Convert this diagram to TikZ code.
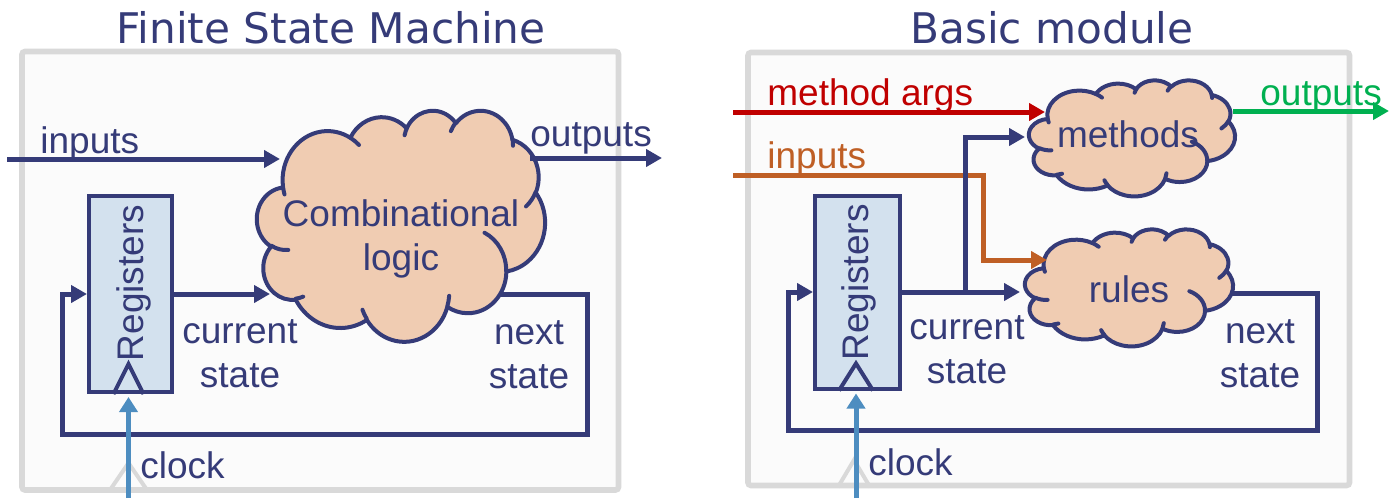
\documentclass[tikz,border=0pt]{standalone}
\usepackage{fontspec}
\setmainfont{Liberation Sans}
\newfontfamily\titlefont{DejaVu Sans}
\usetikzlibrary{arrows.meta}

\definecolor{ink}{HTML}{353B78}
\definecolor{cloudfill}{HTML}{F0CCB2}
\definecolor{regfill}{HTML}{D3E1EE}
\definecolor{clockblue}{HTML}{4D8DC0}
\definecolor{argred}{HTML}{C00000}
\definecolor{inorange}{HTML}{BF5F25}
\definecolor{outgreen}{HTML}{00B050}
\definecolor{panelgray}{HTML}{D9D9D9}
\definecolor{panelfill}{HTML}{FBFBFB}

% A point of the cloud outline, given in a 43.2 x 43.2 design square
\newcommand\cldpt[2]{%
  \pgfmathsetmacro\cldPx{\cldX+\cldW*#1/43.2}%
  \pgfmathsetmacro\cldPy{\cldY+\cldH*#2/43.2}%
  \pgfpointxy{\cldPx}{\cldPy}}
% Elliptic arc continuing the path: radii wR, hR; start and sweep as visual angles
\newcommand\cldarc[4]{%
  \pgfmathsetmacro\cldA{atan2(#1*sin(#3),#2*cos(#3))}%
  \pgfmathsetmacro\cldB{atan2(#1*sin(#3+#4),#2*cos(#3+#4))}%
  \pgfmathsetmacro\cldD{\cldB-\cldA}%
  \pgfmathsetmacro\cldD{\cldD+360*((#4>0)*(\cldD<0))-360*((#4<0)*(\cldD>0))}%
  \pgfmathsetmacro\cldE{\cldA+\cldD}%
  \pgfmathsetmacro\cldRx{\cldW*#1/43.2}%
  \pgfmathsetmacro\cldRy{\cldH*#2/43.2}%
  \pgfpatharcaxes{\cldA}{\cldE}{\pgfpointxy{\cldRx}{0}}{\pgfpointxy{0}{\cldRy}}}
% Cloud: left, top, width, height
\newcommand\pptcloud[4]{%
  \def\cldX{#1}\def\cldY{#2}\def\cldW{#3}\def\cldH{#4}%
  \begin{pgfscope}
    \pgfsetlinewidth{2pt}\pgfsetstrokecolor{ink}\pgfsetfillcolor{cloudfill}%
    \pgfsetroundjoin\pgfsetroundcap
    \pgfpathmoveto{\cldpt{3.900}{14.370}}%
    \cldarc{6.753}{9.190}{-190.48748}{123.78053}%
    \cldarc{5.333}{7.267}{-144.10238}{89.94523}%
    \cldarc{4.365}{5.945}{-145.80792}{99.72302}%
    \cldarc{4.857}{6.595}{-130.98607}{117.24173}%
    \cldarc{5.333}{7.273}{-78.70888}{109.02692}%
    \cldarc{6.775}{9.220}{-46.26725}{130.26900}%
    \cldarc{5.785}{7.867}{0.62502}{114.03333}%
    \cldarc{6.752}{9.215}{22.45160}{115.17255}%
    \cldarc{7.720}{10.543}{66.24263}{75.71102}%
    \cldarc{4.360}{5.918}{-274.94208}{146.73557}%
    \cldarc{4.345}{5.945}{-246.82850}{152.51885}%
    \pgfpathclose
    \pgfusepath{fill,stroke}%
    \pgfpathmoveto{\cldpt{4.693}{26.177}}\cldarc{4.345}{5.945}{86.74200}{26.42950}%
    \pgfpathmoveto{\cldpt{6.928}{34.899}}\cldarc{4.360}{5.918}{73.61047}{11.44747}%
    \pgfpathmoveto{\cldpt{16.478}{39.090}}\cldarc{6.752}{9.215}{137.62415}{14.08110}%
    \pgfpathmoveto{\cldpt{28.827}{34.751}}\cldarc{6.752}{9.215}{6.45327}{15.99835}%
    \pgfpathmoveto{\cldpt{34.129}{22.954}}\cldarc{5.785}{7.867}{-70.29235}{70.91737}%
    \pgfpathmoveto{\cldpt{41.798}{15.354}}\cldarc{5.333}{7.273}{30.31803}{27.75150}%
    \pgfpathmoveto{\cldpt{38.324}{5.426}}\cldarc{4.857}{6.595}{-13.74433}{14.85890}%
    \pgfpathmoveto{\cldpt{29.078}{3.952}}\cldarc{4.857}{6.595}{-149.18145}{18.19537}%
    \pgfpathmoveto{\cldpt{22.141}{4.720}}\cldarc{4.365}{5.945}{-163.49427}{17.68635}%
    \pgfpathmoveto{\cldpt{14.000}{5.192}}\cldarc{6.753}{9.190}{-66.70695}{12.31935}%
    \pgfpathmoveto{\cldpt{4.127}{15.789}}\cldarc{6.753}{9.190}{157.65435}{11.85817}%
    \pgfusepath{stroke}%
  \end{pgfscope}}

\begin{document}
\begin{tikzpicture}[x=0.5pt,y=-0.5pt,
  txt/.style={font=\fontsize{18.5}{22}\selectfont, text=ink, inner sep=0pt},
  ttl/.style={font=\titlefont\fontsize{21.1}{25}\selectfont, text=ink, inner sep=0pt},
  panel/.style={draw=panelgray, line width=2.8pt, fill=panelfill, rounded corners=1.5pt},
  regbox/.style={draw=ink, line width=2pt, fill=regfill, inner sep=0pt},
  wire/.style={draw=ink, line width=2.5pt},
  arr/.style={-{Triangle[length=8pt,width=8.5pt]}},
  clk/.style={draw=clockblue, line width=2.5pt, -{Triangle[length=7.5pt,width=9pt]}},
  ghost/.style={draw=panelgray, line width=2pt},
  edgetri/.style={draw=ink, line width=2pt, line join=miter}]
\useasboundingbox (0,0) rectangle (1390,498);
\fill[white] (0,0) rectangle (1390,498);

% ---------------- Finite State Machine ----------------
\node[panel, minimum width=298.25pt, minimum height=219.25pt] (panelL) at (320.25,270.75) {};
\node[ttl, anchor=base] (ttlL) at (331,43) {Finite State Machine};

\pptcloud{257}{110}{288}{231}
% two-line labels: the base anchor sits on the last line
\node[txt, align=center, anchor=base] (comb) at (401,270) {Combinational\\logic};

\node[regbox, minimum width=41.5pt, minimum height=98pt] (regL) at (130.5,294) {};
\node[txt, rotate=90, anchor=base] (regLtxt) at (143,283) {Registers};

\coordinate (inL) at (7,159);
\coordinate (combIn) at (280,159);
\coordinate (combOut) at (530,158);
\coordinate (outL) at (662,158);
\coordinate (combCS) at (270,294);
\coordinate (combNS) at (500,294);
\coordinate (loopRL) at (587,434);
\coordinate (loopLL) at (62,434);
\coordinate (clkL) at (128.5,498);

\draw[wire, arr] (inL) -- (combIn);
\draw[wire, arr] (combOut) -- (outL);
\draw[wire, arr] (regL.east) -- (combCS);
\draw[wire, arr] (combNS) -| (loopRL) -- (loopLL) |- (regL.west);

\draw[ghost] (110,490) -- (128.5,463) -- (147,490);
\draw[edgetri] (clkL |- regL.south) ++(-15,0) -- ++(15,-30) -- ++(15,30);
\draw[clk] (clkL) -- ([yshift=-1.5pt]clkL |- regL.south);

\node[txt, anchor=base west] (inLlbl) at (40,153) {inputs};
\node[txt, anchor=base west] (outLlbl) at (530,146) {outputs};
\node[txt, align=center, anchor=base] (csL) at (240,387) {current\\state};
\node[txt, align=center, anchor=base] (nsL) at (529,388) {next\\state};
\node[txt, anchor=base west] (clkLlbl) at (140,478) {clock};

% ---------------- Basic module ----------------
\node[panel, minimum width=300.75pt, minimum height=216.5pt] (panelR) at (1048.75,269) {};
\node[ttl, anchor=base] (ttlR) at (1052,43) {Basic module};

\pptcloud{1029}{80}{206}{116}
\node[txt, anchor=base] (meth) at (1128,147) {methods};
\pptcloud{1025}{229}{208}{117}
\node[txt, anchor=base] (rules) at (1129,302) {rules};

\node[regbox, minimum width=42.5pt, minimum height=96.5pt] (regR) at (857.5,292) {};
\node[txt, rotate=90, anchor=base] (regRtxt) at (868,282.5) {Registers};

\coordinate (maIn) at (733,112);
\coordinate (methIn) at (1045,112);
\coordinate (methOut) at (1233,111);
\coordinate (outR) at (1389,111);
\coordinate (inR) at (733,175);
\coordinate (bendR) at (983,260);
\coordinate (rulesIn) at (1047,260);
\coordinate (rulesCS) at (1020,292);
\coordinate (branchR) at (965,292);
\coordinate (methCS) at (1025,137);
\coordinate (rulesNS) at (1231,293);
\coordinate (loopRR) at (1317,430);
\coordinate (loopLR) at (788,430);
\coordinate (clkR) at (856,498);

\draw[line width=2.5pt, argred, arr] (maIn) -- (methIn);
\draw[line width=2.5pt, outgreen, arr] (methOut) -- (outR);
\draw[line width=2.5pt, inorange, arr] (inR) -| (bendR) -- (rulesIn);
\draw[wire, arr] (regR.east) -- (rulesCS);
\draw[wire, arr] (branchR) |- (methCS);
\draw[wire, arr] (rulesNS) -| (loopRR) -- (loopLR) |- (regR.west);

\draw[ghost] (838,487) -- (854,460) -- (870,487);
\draw[edgetri] (clkR |- regR.south) ++(-17,0) -- ++(17,-27) -- ++(17,27);
\draw[clk] (clkR) -- ([yshift=-1.5pt]clkR |- regR.south);

\node[txt, anchor=base west, text=argred] (maLbl) at (767,105) {method args};
\node[txt, anchor=base west, text=inorange] (inRlbl) at (767,168) {inputs};
\node[txt, anchor=base west, text=outgreen] (outRlbl) at (1260,105) {outputs};
\node[txt, align=center, anchor=base] (csR) at (967,383) {current\\state};
\node[txt, align=center, anchor=base] (nsR) at (1260,387) {next\\state};
\node[txt, anchor=base west] (clkRlbl) at (868,475) {clock};
\end{tikzpicture}
\end{document}
